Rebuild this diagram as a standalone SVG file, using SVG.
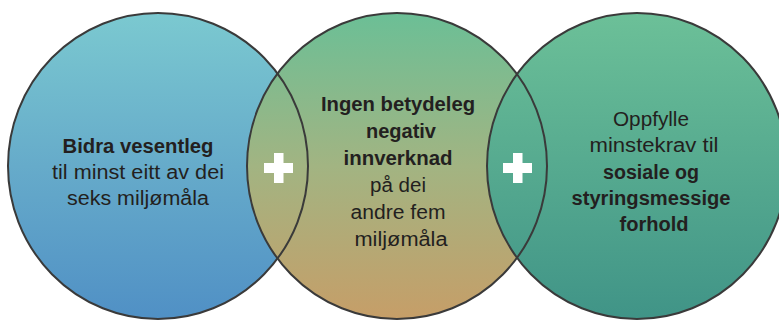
<svg xmlns="http://www.w3.org/2000/svg" width="779" height="320" viewBox="0 0 779 320">
  <defs>
    <linearGradient id="gLeft" gradientUnits="userSpaceOnUse" x1="0" y1="13" x2="0" y2="319">
      <stop offset="0" stop-color="#7bc9d0"/>
      <stop offset="0.5" stop-color="#66abca"/>
      <stop offset="1" stop-color="#5090c5"/>
    </linearGradient>
    <linearGradient id="gMid" gradientUnits="userSpaceOnUse" x1="0" y1="13" x2="0" y2="319">
      <stop offset="0" stop-color="#6bbf96"/>
      <stop offset="0.5" stop-color="#a2b482"/>
      <stop offset="1" stop-color="#c69e68"/>
    </linearGradient>
    <linearGradient id="gRight" gradientUnits="userSpaceOnUse" x1="0" y1="13" x2="0" y2="319">
      <stop offset="0" stop-color="#6cc098"/>
      <stop offset="1" stop-color="#409487"/>
    </linearGradient>
    <style>
      .ring { fill: none; stroke: #3a3a3a; stroke-width: 2; }
      .t { font-family: "Liberation Sans", Arial, sans-serif; font-size: 20px; fill: #231f20; text-anchor: middle; }
      .b { font-weight: bold; }
      .plus { fill: #ffffff; }
    </style>
  </defs>

  <g id="circle-left">
    <ellipse cx="158" cy="166" rx="150" ry="153" fill="url(#gLeft)"/>
  </g>
  <g id="circle-middle">
    <ellipse cx="397" cy="166" rx="150" ry="153" fill="url(#gMid)"/>
  </g>
  <g id="circle-right">
    <ellipse cx="637" cy="166" rx="150" ry="153" fill="url(#gRight)"/>
  </g>

  <g id="outlines">
    <ellipse class="ring" cx="158" cy="166" rx="150" ry="153"/>
    <ellipse class="ring" cx="397" cy="166" rx="150" ry="153"/>
    <ellipse class="ring" cx="637" cy="166" rx="150" ry="153"/>
  </g>

  <g id="plus-1">
    <rect class="plus" x="264" y="163" width="29" height="10"/>
    <rect class="plus" x="274" y="153" width="9.5" height="30"/>
  </g>
  <g id="plus-2">
    <rect class="plus" x="503" y="163" width="29" height="10"/>
    <rect class="plus" x="513" y="153" width="9.5" height="30"/>
  </g>

  <g id="text-left">
    <text class="t b" x="138" y="153" textLength="151" lengthAdjust="spacingAndGlyphs">Bidra vesentleg</text>
    <text class="t" x="138" y="179" textLength="172" lengthAdjust="spacingAndGlyphs">til minst eitt av dei</text>
    <text class="t" x="138" y="205" textLength="142" lengthAdjust="spacingAndGlyphs">seks miljømåla</text>
  </g>

  <g id="text-middle">
    <text class="t b" x="398" y="111" textLength="154" lengthAdjust="spacingAndGlyphs">Ingen betydeleg</text>
    <text class="t b" x="401" y="138" textLength="70" lengthAdjust="spacingAndGlyphs">negativ</text>
    <text class="t b" x="398" y="165" textLength="109" lengthAdjust="spacingAndGlyphs">innverknad</text>
    <text class="t" x="398" y="192" textLength="56" lengthAdjust="spacingAndGlyphs">på dei</text>
    <text class="t" x="398" y="219" textLength="95" lengthAdjust="spacingAndGlyphs">andre fem</text>
    <text class="t" x="401" y="246" textLength="93" lengthAdjust="spacingAndGlyphs">miljømåla</text>
  </g>

  <g id="text-right">
    <text class="t" x="651" y="126" textLength="76" lengthAdjust="spacingAndGlyphs">Oppfylle</text>
    <text class="t" x="654" y="152" textLength="129" lengthAdjust="spacingAndGlyphs">minstekrav til</text>
    <text class="t b" x="651" y="179" textLength="96" lengthAdjust="spacingAndGlyphs">sosiale og</text>
    <text class="t b" x="651" y="205" textLength="159" lengthAdjust="spacingAndGlyphs">styringsmessige</text>
    <text class="t b" x="654" y="231" textLength="69" lengthAdjust="spacingAndGlyphs">forhold</text>
  </g>
</svg>
